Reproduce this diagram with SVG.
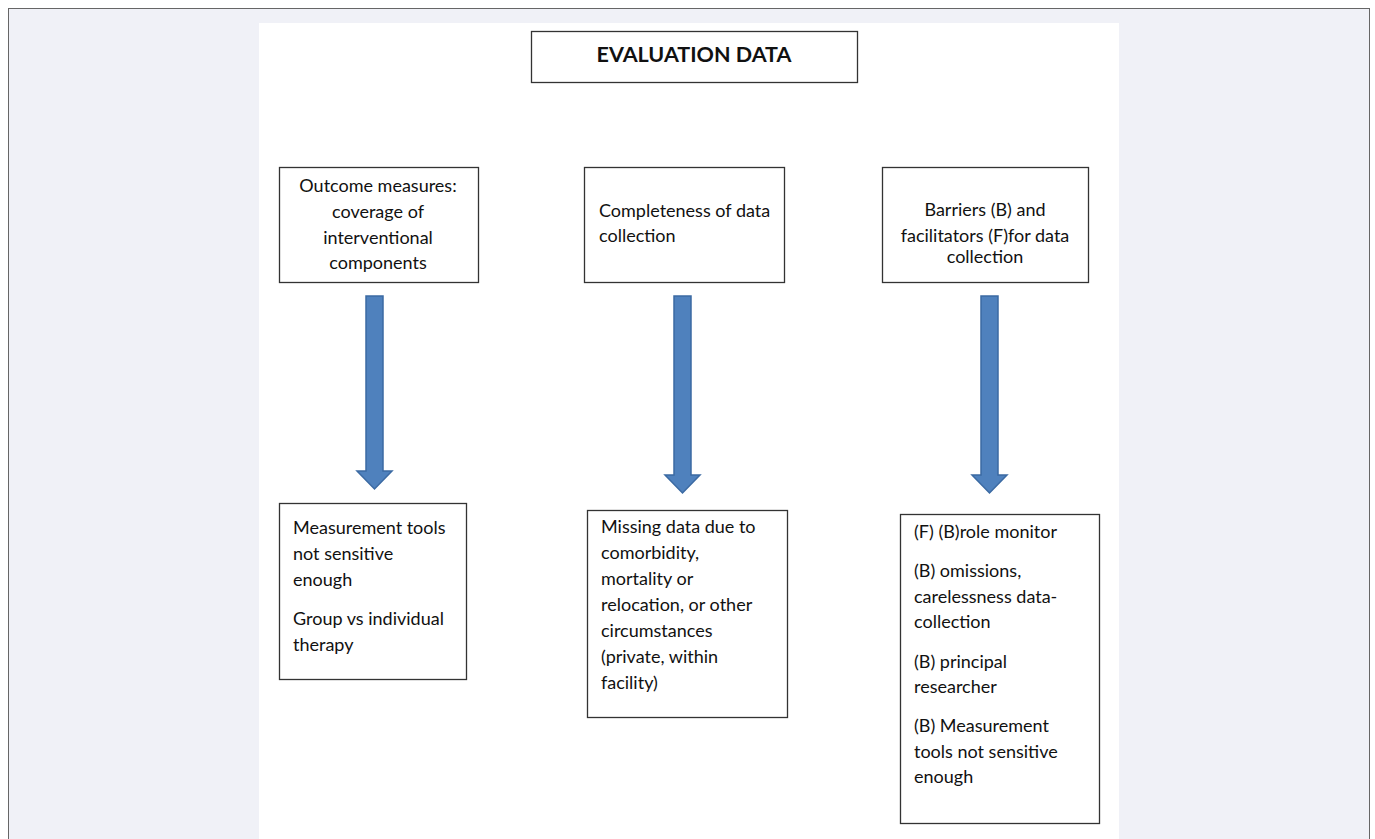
<svg xmlns="http://www.w3.org/2000/svg" width="1375" height="839" viewBox="0 0 1375 839">
<style>
.box{fill:#fff;stroke:#333;stroke-width:1.3}
.t{font-family:Lato,"Open Sans","Liberation Sans",sans-serif;font-size:18px;fill:#111}
.c{text-anchor:middle}
.arrow{fill:#4f81bd;stroke:#3b6aa3;stroke-width:1.5}
</style>
<rect x="0" y="0" width="1375" height="839" fill="#fff"/>
<rect x="8.5" y="8.5" width="1361" height="840" fill="#f0f1f7" stroke="#666" stroke-width="1"/>
<rect x="259" y="23" width="860" height="816" fill="#fff"/>
<g id="title"><rect class="box" x="531.5" y="31.5" width="326" height="51"/><text x="694" y="62" class="t c" style="font-size:21.5px;font-weight:bold">EVALUATION DATA</text></g>
<g id="n1"><rect class="box" x="279.5" y="167.5" width="199" height="115"/>
<text class="t c" x="378" y="192">Outcome measures:</text><text class="t c" x="378" y="218">coverage of</text><text class="t c" x="378" y="244">interventional</text><text class="t c" x="378" y="269">components</text></g>
<g id="n2"><rect class="box" x="584.5" y="167.5" width="200" height="115"/>
<text class="t" x="599" y="217">Completeness of data</text><text class="t" x="599" y="242">collection</text></g>
<g id="n3"><rect class="box" x="882.5" y="167.5" width="206" height="115"/>
<text class="t c" x="985" y="216">Barriers (B) and</text><text class="t c" x="985" y="242">facilitators (F)for data</text><text class="t c" x="985" y="263">collection</text></g>
<g id="n4"><rect class="box" x="279.5" y="503.5" width="187" height="176"/>
<text class="t" x="293" y="534">Measurement tools</text><text class="t" x="293" y="560">not sensitive</text><text class="t" x="293" y="586">enough</text><text class="t" x="293" y="625">Group vs individual</text><text class="t" x="293" y="651">therapy</text></g>
<g id="n5"><rect class="box" x="587.5" y="510.5" width="200" height="207"/>
<text class="t" x="601" y="533">Missing data due to</text><text class="t" x="601" y="559">comorbidity,</text><text class="t" x="601" y="585">mortality or</text><text class="t" x="601" y="611">relocation, or other</text><text class="t" x="601" y="637">circumstances</text><text class="t" x="601" y="663">(private, within</text><text class="t" x="601" y="689">facility)</text></g>
<g id="n6"><rect class="box" x="900.5" y="514.5" width="199" height="309"/>
<text class="t" x="914" y="538">(F) (B)role monitor</text><text class="t" x="914" y="577">(B) omissions,</text><text class="t" x="914" y="603">carelessness data-</text><text class="t" x="914" y="628">collection</text><text class="t" x="914" y="668">(B) principal</text><text class="t" x="914" y="693">researcher</text><text class="t" x="914" y="732">(B) Measurement</text><text class="t" x="914" y="758">tools not sensitive</text><text class="t" x="914" y="783">enough</text></g>
<g id="connectors">
<path class="arrow" d="M366,296 H383 V471 H392 L374.5,489 L357,471 H366 Z"/>
<path class="arrow" d="M674,296 H691 V475 H700 L682.5,493 L665,475 H674 Z"/>
<path class="arrow" d="M981,296 H998 V475 H1007 L989.5,493 L972,475 H981 Z"/>
</g>
</svg>
